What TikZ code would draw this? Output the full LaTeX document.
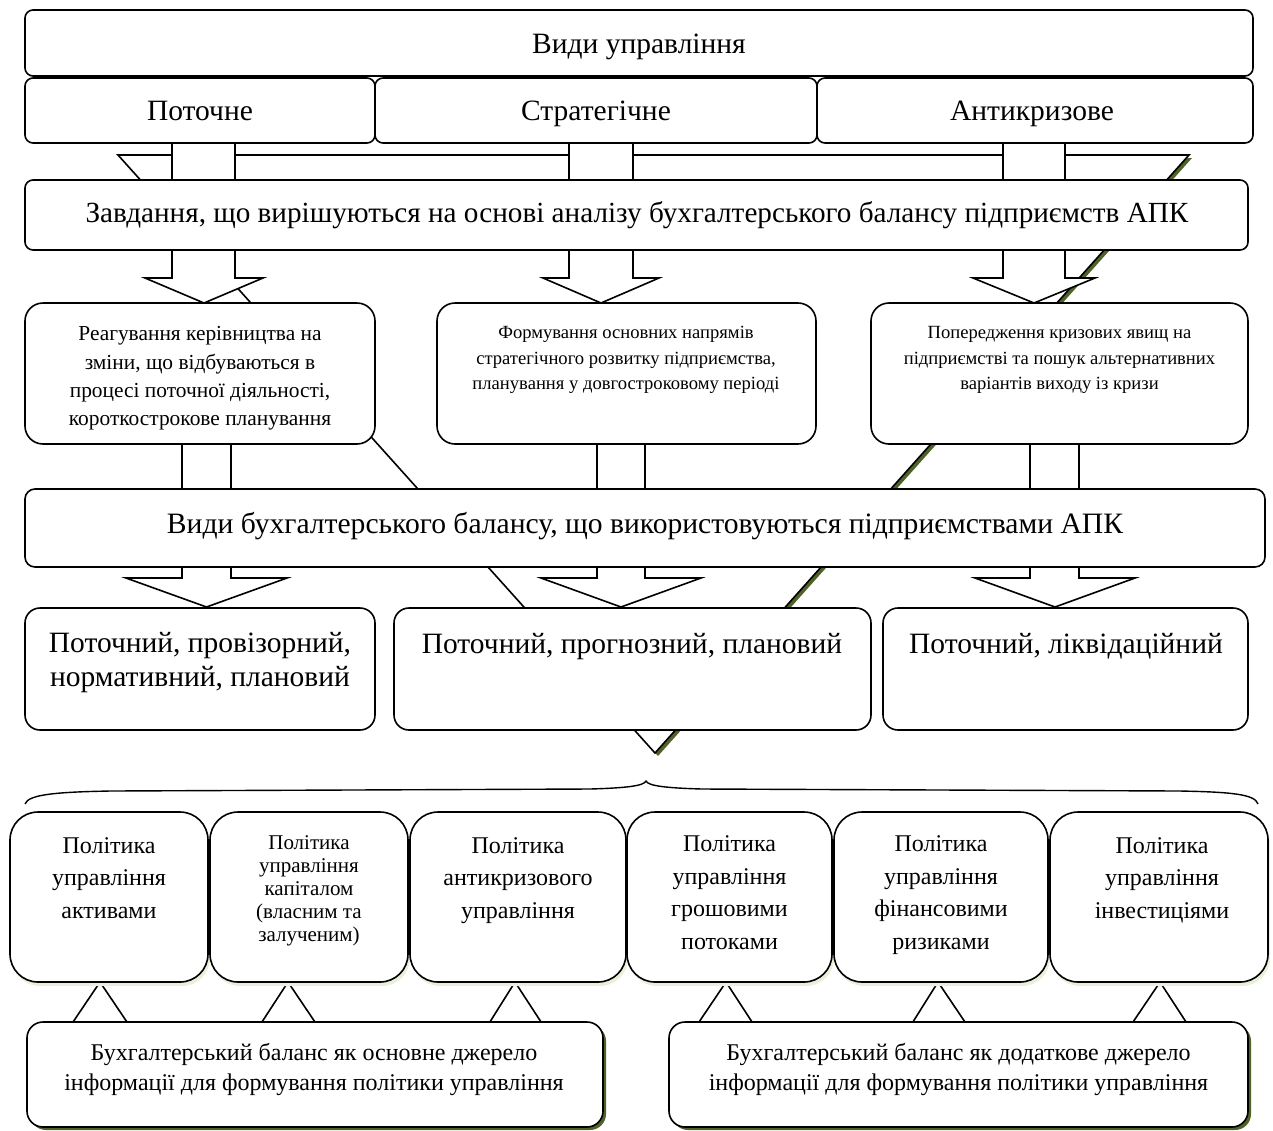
\documentclass[tikz,border=0pt]{standalone}
\usepackage{fontspec}
\setmainfont{Liberation Serif}
\usetikzlibrary{shadows}
\definecolor{oliveshade}{RGB}{79,98,40}
\definecolor{paleglow}{RGB}{232,240,218}
\newcommand\setfs[2]{\fontsize{#1}{#2}\selectfont}

\begin{document}
\begin{tikzpicture}[x=1pt,y=-1pt,
  outline/.style={draw=black, line width=1.6pt},
  card/.style={outline, fill=white, inner sep=0pt},
  flat/.style={card, rounded corners=8pt},
  soft/.style={card, rounded corners=18pt},
  policy/.style={card, rounded corners=28pt,
    general shadow={fill=paleglow, shadow xshift=2pt, shadow yshift=-4pt}},
  source/.style={card, rounded corners=16pt,
    general shadow={fill=oliveshade, shadow xshift=3pt, shadow yshift=-3pt}},
  blockarrow/.style={outline, fill=white, line join=miter},
  lbl/.style={align=center, inner sep=0pt,
    execute at begin node=\strut, execute at end node=\strut},
  brace/.style={draw=black, line width=1.4pt}
]
\useasboundingbox (0,0) rectangle (1273,1130);

% large arrow head running behind the whole upper part
\fill[oliveshade] (121,158) -- (1192,158) -- (658,756) -- cycle;
\filldraw[blockarrow] (118,155) -- (1189,155) -- (655,753) -- cycle;

% block arrows from the kinds of management to the tasks
\filldraw[blockarrow] (172,140) -- (172,278) -- (145,278) -- (204,303) -- (263,278) -- (235,278) -- (235,140) -- cycle;
\filldraw[blockarrow] (569,140) -- (569,278) -- (543,278) -- (601,303) -- (659,278) -- (633,278) -- (633,140) -- cycle;
\filldraw[blockarrow] (1003,140) -- (1003,278) -- (973,278) -- (1034,303) -- (1095,278) -- (1065,278) -- (1065,140) -- cycle;

% block arrows from the tasks to the kinds of balance
\filldraw[blockarrow] (182,441) -- (182,578) -- (126,578) -- (206.5,607) -- (287,578) -- (231,578) -- (231,441) -- cycle;
\filldraw[blockarrow] (597,441) -- (597,578) -- (541,578) -- (621,607) -- (701,578) -- (645,578) -- (645,441) -- cycle;
\filldraw[blockarrow] (1030,441) -- (1030,578) -- (975,578) -- (1055,607) -- (1135,578) -- (1079,578) -- (1079,441) -- cycle;

% pointers from the information sources up to the policies
\filldraw[blockarrow] (71,1025) -- (100,982) -- (129,1025) -- cycle;
\filldraw[blockarrow] (260,1025) -- (288,982) -- (317,1025) -- cycle;
\filldraw[blockarrow] (488,1025) -- (515,982) -- (543,1025) -- cycle;
\filldraw[blockarrow] (697,1025) -- (726,982) -- (754,1025) -- cycle;
\filldraw[blockarrow] (911,1025) -- (938,982) -- (967,1025) -- cycle;
\filldraw[blockarrow] (1131,1025) -- (1160,982) -- (1188,1025) -- cycle;

% kinds of management
\node[flat, minimum width=1228pt, minimum height=66pt] (vydy) at (639,43) {};
\node[flat, minimum width=350pt, minimum height=65pt] (potochne) at (200,110.5) {};
\node[flat, minimum width=442pt, minimum height=65pt] (strat) at (596,110.5) {};
\node[flat, minimum width=436pt, minimum height=65pt] (anty) at (1035,110.5) {};

% tasks
\node[flat, minimum width=1223pt, minimum height=70pt] (zavd) at (636.5,215) {};
\node[soft, minimum width=350pt, minimum height=141pt] (taskL) at (200,373.5) {};
\node[soft, minimum width=379pt, minimum height=141pt] (taskM) at (626.5,373.5) {};
\node[soft, minimum width=377pt, minimum height=141pt] (taskR) at (1059.5,373.5) {};

% kinds of balance
\node[flat, rounded corners=10pt, minimum width=1240pt, minimum height=78pt] (balkinds) at (645,528) {};
\node[soft, rounded corners=15pt, minimum width=350pt, minimum height=122pt] (balL) at (200,669) {};
\node[soft, rounded corners=15pt, minimum width=477pt, minimum height=122pt] (balM) at (632.5,669) {};
\node[soft, rounded corners=15pt, minimum width=365pt, minimum height=122pt] (balR) at (1065.5,669) {};

% brace over the policies
\draw[brace] (25,804) .. controls (28,794) and (60,792) .. (110,791) -- (590,789)
  .. controls (625,788) and (644,786) .. (646,781)
  .. controls (648,786) and (667,788) .. (702,789) -- (1180,791)
  .. controls (1230,792) and (1255,794) .. (1258,804);

% policies
\node[policy, minimum width=198pt, minimum height=170pt] (p1) at (109,897) {};
\node[policy, minimum width=198pt, minimum height=170pt] (p2) at (309,897) {};
\node[policy, minimum width=216pt, minimum height=170pt] (p3) at (518,897) {};
\node[policy, minimum width=205pt, minimum height=170pt] (p4) at (729.5,897) {};
\node[policy, minimum width=214pt, minimum height=170pt] (p5) at (941,897) {};
\node[policy, minimum width=218pt, minimum height=170pt] (p6) at (1159,897) {};

% information sources
\node[source, minimum width=576pt, minimum height=105pt] (srcmain) at (315,1074.5) {};
\node[source, minimum width=579pt, minimum height=105pt] (srcextra) at (958.5,1074.5) {};

% labels
\node[lbl, font=\setfs{29.5}{34}] (t-vydy) at (639,46.5) {Види управління};
\node[lbl, font=\setfs{29.5}{34}] (t-pot) at (200,114) {Поточне};
\node[lbl, font=\setfs{29.5}{34}] (t-str) at (596,114) {Стратегічне};
\node[lbl, font=\setfs{29.5}{34}] (t-ant) at (1032,114) {Антикризове};
\node[lbl, font=\setfs{29.2}{34}] (t-zavd) at (637,216) {Завдання, що вирішуються на основі аналізу бухгалтерського балансу підприємств АПК};
\node[lbl, font=\setfs{21.4}{28.3}] (t-taskL) at (200,380.5) {Реагування керівництва на\\зміни, що відбуваються в\\процесі поточної діяльності,\\короткострокове планування};
\node[lbl, font=\setfs{18.6}{25.5}] (t-taskM) at (626,362) {Формування основних напрямів\\стратегічного розвитку підприємства,\\планування у довгостроковому періоді};
\node[lbl, font=\setfs{18.6}{25.5}] (t-taskR) at (1059.5,362) {Попередження кризових явищ на\\підприємстві та пошук альтернативних\\варіантів виходу із кризи};
\node[lbl, font=\setfs{29.6}{34}] (t-balk) at (645,526.5) {Види бухгалтерського балансу, що використовуються підприємствами АПК};
\node[lbl, font=\setfs{29.5}{34}] (t-balL) at (200,664) {Поточний, провізорний,\\нормативний, плановий};
\node[lbl, font=\setfs{29.5}{34}] (t-balM) at (632,647) {Поточний, прогнозний, плановий};
\node[lbl, font=\setfs{29.5}{34}] (t-balR) at (1066,647) {Поточний, ліквідаційний};
\node[lbl, font=\setfs{24}{32.5}] (t-p1) at (109,882.5) {Політика\\управління\\активами};
\node[lbl, font=\setfs{21}{23}] (t-p2) at (309,892) {Політика\\управління\\капіталом\\(власним та\\залученим)};
\node[lbl, font=\setfs{24}{32.5}] (t-p3) at (518,882.5) {Політика\\антикризового\\управління};
\node[lbl, font=\setfs{24}{32.5}] (t-p4) at (729.5,897.5) {Політика\\управління\\грошовими\\потоками};
\node[lbl, font=\setfs{24}{32.5}] (t-p5) at (941,897.5) {Політика\\управління\\фінансовими\\ризиками};
\node[lbl, font=\setfs{24}{32.5}] (t-p6) at (1162,882.5) {Політика\\управління\\інвестиціями};
\node[lbl, font=\setfs{24}{30}] (t-srcmain) at (314,1071.5) {Бухгалтерський баланс як основне джерело\\інформації для формування політики управління};
\node[lbl, font=\setfs{24}{30}] (t-srcextra) at (958.5,1071.5) {Бухгалтерський баланс як додаткове джерело\\інформації для формування політики управління};
\end{tikzpicture}
\end{document}
